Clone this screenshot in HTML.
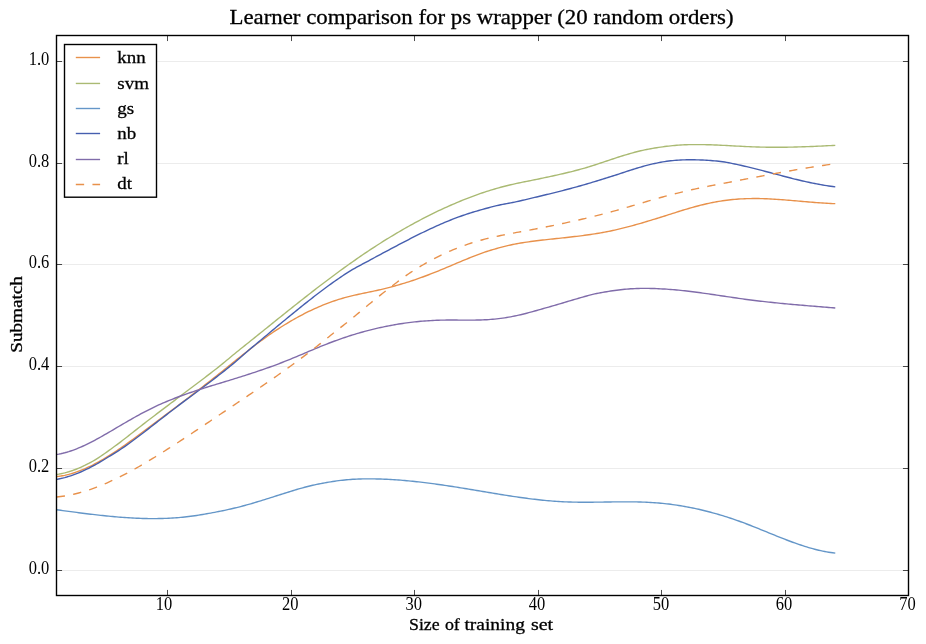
<!DOCTYPE html>
<html><head><meta charset="utf-8"><title>Learner comparison</title>
<style>
html,body{margin:0;padding:0;background:#fff;}
body{width:926px;height:644px;overflow:hidden;font-family:"Liberation Serif",serif;}
svg{display:block;will-change:transform;}
text{font-family:"Liberation Serif",serif;fill:#000;}
.tick{font-size:17px;}
.lab{font-size:18px;}
.leg{font-size:18.5px;}
.title{font-size:22px;}
</style></head><body>
<svg width="926" height="644" viewBox="0 0 926 644">
<rect x="0" y="0" width="926" height="644" fill="#ffffff"/>

<g stroke="#ececec" stroke-width="1" fill="none">
<line x1="56.5" y1="570.50" x2="908.5" y2="570.50"/>
<line x1="56.5" y1="468.50" x2="908.5" y2="468.50"/>
<line x1="56.5" y1="366.50" x2="908.5" y2="366.50"/>
<line x1="56.5" y1="264.50" x2="908.5" y2="264.50"/>
<line x1="56.5" y1="163.50" x2="908.5" y2="163.50"/>
<line x1="56.5" y1="61.50" x2="908.5" y2="61.50"/>
</g>
<clipPath id="ax"><rect x="56.5" y="35.5" width="852.0" height="560.0"/></clipPath>
<g fill="none" stroke-width="1.39" stroke-linejoin="round" clip-path="url(#ax)">
<path d="M56.7,476.55 L58.7,476.33 L60.7,476.04 L62.7,475.70 L64.7,475.32 L66.7,474.87 L68.7,474.38 L70.7,473.84 L72.7,473.26 L74.7,472.62 L76.7,471.94 L78.7,471.22 L80.7,470.45 L82.7,469.65 L84.7,468.80 L86.7,467.91 L88.7,466.98 L90.7,466.02 L92.7,465.03 L94.7,463.99 L96.7,462.93 L98.7,461.83 L100.7,460.70 L102.7,459.55 L104.7,458.36 L106.7,457.15 L108.7,455.91 L110.7,454.64 L112.7,453.36 L114.7,452.05 L116.7,450.72 L118.7,449.37 L120.7,448.00 L122.7,446.61 L124.7,445.21 L126.7,443.79 L128.7,442.36 L130.7,440.92 L132.7,439.46 L134.7,437.99 L136.7,436.52 L138.7,435.04 L140.7,433.55 L142.7,432.05 L144.7,430.55 L146.7,429.05 L148.7,427.55 L150.7,426.04 L152.7,424.54 L154.7,423.04 L156.7,421.54 L158.7,420.04 L160.7,418.54 L162.7,417.04 L164.7,415.53 L166.7,414.03 L168.7,412.53 L170.7,411.03 L172.7,409.53 L174.7,408.02 L176.7,406.52 L178.7,405.01 L180.7,403.50 L182.7,401.99 L184.7,400.48 L186.7,398.96 L188.7,397.44 L190.7,395.92 L192.7,394.39 L194.7,392.86 L196.7,391.32 L198.7,389.79 L200.7,388.24 L202.7,386.70 L204.7,385.14 L206.7,383.59 L208.7,382.02 L210.7,380.45 L212.7,378.88 L214.7,377.30 L216.7,375.71 L218.7,374.12 L220.7,372.52 L222.7,370.92 L224.7,369.31 L226.7,367.70 L228.7,366.09 L230.7,364.48 L232.7,362.87 L234.7,361.26 L236.7,359.65 L238.7,358.05 L240.7,356.46 L242.7,354.87 L244.7,353.29 L246.7,351.71 L248.7,350.15 L250.7,348.60 L252.7,347.06 L254.7,345.53 L256.7,344.02 L258.7,342.52 L260.7,341.04 L262.7,339.58 L264.7,338.13 L266.7,336.70 L268.7,335.30 L270.7,333.91 L272.7,332.55 L274.7,331.20 L276.7,329.87 L278.7,328.57 L280.7,327.28 L282.7,326.02 L284.7,324.77 L286.7,323.55 L288.7,322.34 L290.7,321.16 L292.7,320.00 L294.7,318.86 L296.7,317.74 L298.7,316.65 L300.7,315.57 L302.7,314.52 L304.7,313.49 L306.7,312.48 L308.7,311.49 L310.7,310.53 L312.7,309.59 L314.7,308.67 L316.7,307.77 L318.7,306.90 L320.7,306.05 L322.7,305.22 L324.7,304.42 L326.7,303.64 L328.7,302.88 L330.7,302.15 L332.7,301.44 L334.7,300.76 L336.7,300.10 L338.7,299.46 L340.7,298.85 L342.7,298.26 L344.7,297.70 L346.7,297.16 L348.7,296.64 L350.7,296.14 L352.7,295.66 L354.7,295.19 L356.7,294.74 L358.7,294.29 L360.7,293.86 L362.7,293.43 L364.7,293.01 L366.7,292.59 L368.7,292.17 L370.7,291.75 L372.7,291.33 L374.7,290.90 L376.7,290.46 L378.7,290.01 L380.7,289.56 L382.7,289.08 L384.7,288.60 L386.7,288.10 L388.7,287.59 L390.7,287.07 L392.7,286.54 L394.7,285.99 L396.7,285.43 L398.7,284.86 L400.7,284.27 L402.7,283.67 L404.7,283.06 L406.7,282.43 L408.7,281.80 L410.7,281.15 L412.7,280.49 L414.7,279.81 L416.7,279.13 L418.7,278.43 L420.7,277.72 L422.7,276.99 L424.7,276.25 L426.7,275.51 L428.7,274.74 L430.7,273.97 L432.7,273.19 L434.7,272.39 L436.7,271.58 L438.7,270.77 L440.7,269.95 L442.7,269.12 L444.7,268.29 L446.7,267.45 L448.7,266.61 L450.7,265.77 L452.7,264.92 L454.7,264.08 L456.7,263.23 L458.7,262.39 L460.7,261.55 L462.7,260.72 L464.7,259.89 L466.7,259.06 L468.7,258.25 L470.7,257.44 L472.7,256.64 L474.7,255.85 L476.7,255.08 L478.7,254.31 L480.7,253.56 L482.7,252.84 L484.7,252.15 L486.7,251.49 L488.7,250.86 L490.7,250.25 L492.7,249.65 L494.7,249.07 L496.7,248.50 L498.7,247.94 L500.7,247.39 L502.7,246.86 L504.7,246.35 L506.7,245.86 L508.7,245.40 L510.7,244.96 L512.7,244.54 L514.7,244.14 L516.7,243.76 L518.7,243.40 L520.7,243.05 L522.7,242.72 L524.7,242.41 L526.7,242.11 L528.7,241.82 L530.7,241.54 L532.7,241.28 L534.7,241.02 L536.7,240.77 L538.7,240.53 L540.7,240.29 L542.7,240.06 L544.7,239.84 L546.7,239.62 L548.7,239.40 L550.7,239.18 L552.7,238.97 L554.7,238.76 L556.7,238.54 L558.7,238.33 L560.7,238.12 L562.7,237.90 L564.7,237.69 L566.7,237.47 L568.7,237.25 L570.7,237.02 L572.7,236.80 L574.7,236.56 L576.7,236.32 L578.7,236.08 L580.7,235.83 L582.7,235.57 L584.7,235.31 L586.7,235.04 L588.7,234.76 L590.7,234.47 L592.7,234.17 L594.7,233.86 L596.7,233.54 L598.7,233.21 L600.7,232.86 L602.7,232.51 L604.7,232.14 L606.7,231.76 L608.7,231.36 L610.7,230.95 L612.7,230.52 L614.7,230.08 L616.7,229.63 L618.7,229.16 L620.7,228.68 L622.7,228.19 L624.7,227.68 L626.7,227.17 L628.7,226.64 L630.7,226.11 L632.7,225.56 L634.7,225.01 L636.7,224.45 L638.7,223.88 L640.7,223.30 L642.7,222.72 L644.7,222.13 L646.7,221.53 L648.7,220.93 L650.7,220.32 L652.7,219.71 L654.7,219.10 L656.7,218.48 L658.7,217.86 L660.7,217.24 L662.7,216.61 L664.7,215.98 L666.7,215.35 L668.7,214.71 L670.7,214.07 L672.7,213.43 L674.7,212.79 L676.7,212.16 L678.7,211.53 L680.7,210.90 L682.7,210.28 L684.7,209.67 L686.7,209.07 L688.7,208.48 L690.7,207.89 L692.7,207.33 L694.7,206.77 L696.7,206.23 L698.7,205.71 L700.7,205.20 L702.7,204.71 L704.7,204.23 L706.7,203.77 L708.7,203.33 L710.7,202.90 L712.7,202.49 L714.7,202.11 L716.7,201.74 L718.7,201.39 L720.7,201.07 L722.7,200.76 L724.7,200.48 L726.7,200.22 L728.7,199.97 L730.7,199.75 L732.7,199.55 L734.7,199.36 L736.7,199.20 L738.7,199.06 L740.7,198.93 L742.7,198.83 L744.7,198.74 L746.7,198.67 L748.7,198.61 L750.7,198.57 L752.7,198.54 L754.7,198.54 L756.7,198.54 L758.7,198.56 L760.7,198.60 L762.7,198.65 L764.7,198.71 L766.7,198.79 L768.7,198.87 L770.7,198.97 L772.7,199.08 L774.7,199.20 L776.7,199.32 L778.7,199.46 L780.7,199.60 L782.7,199.75 L784.7,199.91 L786.7,200.07 L788.7,200.23 L790.7,200.40 L792.7,200.57 L794.7,200.75 L796.7,200.92 L798.7,201.10 L800.7,201.28 L802.7,201.46 L804.7,201.63 L806.7,201.81 L808.7,201.98 L810.7,202.15 L812.7,202.31 L814.7,202.47 L816.7,202.62 L818.7,202.77 L820.7,202.91 L822.7,203.05 L824.7,203.17 L826.7,203.29 L828.7,203.39 L830.7,203.49 L832.7,203.57 L834.6,203.64" stroke="#E8914B" stroke-linecap="square"/>
<path d="M56.7,474.46 L58.7,474.13 L60.7,473.75 L62.7,473.32 L64.7,472.85 L66.7,472.32 L68.7,471.75 L70.7,471.13 L72.7,470.47 L74.7,469.75 L76.7,468.99 L78.7,468.19 L80.7,467.33 L82.7,466.43 L84.7,465.49 L86.7,464.49 L88.7,463.46 L90.7,462.37 L92.7,461.24 L94.7,460.06 L96.7,458.84 L98.7,457.57 L100.7,456.26 L102.7,454.91 L104.7,453.51 L106.7,452.09 L108.7,450.66 L110.7,449.22 L112.7,447.77 L114.7,446.31 L116.7,444.83 L118.7,443.34 L120.7,441.84 L122.7,440.32 L124.7,438.79 L126.7,437.23 L128.7,435.66 L130.7,434.07 L132.7,432.49 L134.7,430.91 L136.7,429.33 L138.7,427.77 L140.7,426.21 L142.7,424.65 L144.7,423.10 L146.7,421.56 L148.7,420.02 L150.7,418.48 L152.7,416.95 L154.7,415.43 L156.7,413.90 L158.7,412.39 L160.7,410.87 L162.7,409.36 L164.7,407.84 L166.7,406.34 L168.7,404.83 L170.7,403.32 L172.7,401.82 L174.7,400.32 L176.7,398.81 L178.7,397.31 L180.7,395.81 L182.7,394.31 L184.7,392.81 L186.7,391.30 L188.7,389.80 L190.7,388.29 L192.7,386.78 L194.7,385.28 L196.7,383.76 L198.7,382.25 L200.7,380.73 L202.7,379.21 L204.7,377.69 L206.7,376.16 L208.7,374.63 L210.7,373.09 L212.7,371.55 L214.7,370.01 L216.7,368.45 L218.7,366.86 L220.7,365.25 L222.7,363.62 L224.7,361.98 L226.7,360.32 L228.7,358.66 L230.7,357.00 L232.7,355.34 L234.7,353.69 L236.7,352.05 L238.7,350.43 L240.7,348.83 L242.7,347.23 L244.7,345.63 L246.7,344.03 L248.7,342.43 L250.7,340.82 L252.7,339.22 L254.7,337.61 L256.7,336.00 L258.7,334.39 L260.7,332.78 L262.7,331.17 L264.7,329.56 L266.7,327.95 L268.7,326.34 L270.7,324.73 L272.7,323.12 L274.7,321.51 L276.7,319.90 L278.7,318.30 L280.7,316.70 L282.7,315.09 L284.7,313.49 L286.7,311.89 L288.7,310.30 L290.7,308.71 L292.7,307.12 L294.7,305.53 L296.7,303.94 L298.7,302.36 L300.7,300.79 L302.7,299.21 L304.7,297.64 L306.7,296.08 L308.7,294.52 L310.7,292.96 L312.7,291.41 L314.7,289.86 L316.7,288.32 L318.7,286.78 L320.7,285.25 L322.7,283.73 L324.7,282.21 L326.7,280.70 L328.7,279.20 L330.7,277.70 L332.7,276.20 L334.7,274.72 L336.7,273.24 L338.7,271.77 L340.7,270.31 L342.7,268.86 L344.7,267.41 L346.7,265.97 L348.7,264.54 L350.7,263.12 L352.7,261.71 L354.7,260.31 L356.7,258.91 L358.7,257.53 L360.7,256.15 L362.7,254.79 L364.7,253.44 L366.7,252.09 L368.7,250.76 L370.7,249.43 L372.7,248.12 L374.7,246.82 L376.7,245.52 L378.7,244.24 L380.7,242.97 L382.7,241.70 L384.7,240.45 L386.7,239.21 L388.7,237.98 L390.7,236.76 L392.7,235.55 L394.7,234.35 L396.7,233.16 L398.7,231.98 L400.7,230.81 L402.7,229.66 L404.7,228.51 L406.7,227.38 L408.7,226.25 L410.7,225.14 L412.7,224.04 L414.7,222.95 L416.7,221.87 L418.7,220.80 L420.7,219.74 L422.7,218.70 L424.7,217.66 L426.7,216.64 L428.7,215.62 L430.7,214.62 L432.7,213.63 L434.7,212.66 L436.7,211.69 L438.7,210.74 L440.7,209.79 L442.7,208.86 L444.7,207.94 L446.7,207.03 L448.7,206.14 L450.7,205.25 L452.7,204.38 L454.7,203.52 L456.7,202.67 L458.7,201.84 L460.7,201.01 L462.7,200.20 L464.7,199.40 L466.7,198.61 L468.7,197.84 L470.7,197.08 L472.7,196.33 L474.7,195.59 L476.7,194.86 L478.7,194.15 L480.7,193.45 L482.7,192.76 L484.7,192.09 L486.7,191.44 L488.7,190.80 L490.7,190.17 L492.7,189.56 L494.7,188.96 L496.7,188.38 L498.7,187.81 L500.7,187.26 L502.7,186.73 L504.7,186.21 L506.7,185.72 L508.7,185.23 L510.7,184.77 L512.7,184.31 L514.7,183.86 L516.7,183.43 L518.7,182.99 L520.7,182.57 L522.7,182.15 L524.7,181.74 L526.7,181.35 L528.7,180.95 L530.7,180.56 L532.7,180.17 L534.7,179.77 L536.7,179.37 L538.7,178.96 L540.7,178.54 L542.7,178.11 L544.7,177.69 L546.7,177.26 L548.7,176.83 L550.7,176.40 L552.7,175.97 L554.7,175.53 L556.7,175.09 L558.7,174.64 L560.7,174.19 L562.7,173.73 L564.7,173.26 L566.7,172.78 L568.7,172.30 L570.7,171.81 L572.7,171.30 L574.7,170.79 L576.7,170.27 L578.7,169.73 L580.7,169.19 L582.7,168.62 L584.7,168.05 L586.7,167.46 L588.7,166.86 L590.7,166.24 L592.7,165.61 L594.7,164.97 L596.7,164.32 L598.7,163.66 L600.7,162.99 L602.7,162.32 L604.7,161.65 L606.7,160.98 L608.7,160.31 L610.7,159.64 L612.7,158.97 L614.7,158.32 L616.7,157.67 L618.7,157.03 L620.7,156.40 L622.7,155.77 L624.7,155.16 L626.7,154.55 L628.7,153.96 L630.7,153.38 L632.7,152.82 L634.7,152.28 L636.7,151.77 L638.7,151.27 L640.7,150.80 L642.7,150.35 L644.7,149.92 L646.7,149.50 L648.7,149.10 L650.7,148.72 L652.7,148.36 L654.7,148.02 L656.7,147.69 L658.7,147.38 L660.7,147.09 L662.7,146.82 L664.7,146.56 L666.7,146.31 L668.7,146.08 L670.7,145.86 L672.7,145.66 L674.7,145.47 L676.7,145.31 L678.7,145.15 L680.7,145.02 L682.7,144.90 L684.7,144.81 L686.7,144.73 L688.7,144.67 L690.7,144.63 L692.7,144.60 L694.7,144.58 L696.7,144.58 L698.7,144.58 L700.7,144.59 L702.7,144.62 L704.7,144.65 L706.7,144.69 L708.7,144.74 L710.7,144.80 L712.7,144.87 L714.7,144.95 L716.7,145.03 L718.7,145.12 L720.7,145.22 L722.7,145.32 L724.7,145.43 L726.7,145.53 L728.7,145.64 L730.7,145.75 L732.7,145.86 L734.7,145.96 L736.7,146.07 L738.7,146.18 L740.7,146.28 L742.7,146.38 L744.7,146.48 L746.7,146.57 L748.7,146.66 L750.7,146.75 L752.7,146.83 L754.7,146.90 L756.7,146.97 L758.7,147.03 L760.7,147.08 L762.7,147.13 L764.7,147.17 L766.7,147.20 L768.7,147.23 L770.7,147.25 L772.7,147.26 L774.7,147.27 L776.7,147.27 L778.7,147.27 L780.7,147.26 L782.7,147.24 L784.7,147.22 L786.7,147.19 L788.7,147.16 L790.7,147.13 L792.7,147.08 L794.7,147.04 L796.7,146.99 L798.7,146.93 L800.7,146.87 L802.7,146.81 L804.7,146.74 L806.7,146.67 L808.7,146.60 L810.7,146.52 L812.7,146.44 L814.7,146.35 L816.7,146.27 L818.7,146.17 L820.7,146.08 L822.7,145.98 L824.7,145.89 L826.7,145.78 L828.7,145.68 L830.7,145.58 L832.7,145.47 L834.6,145.36" stroke="#AABA73" stroke-linecap="square"/>
<path d="M56.7,509.78 L58.7,510.04 L60.7,510.31 L62.7,510.58 L64.7,510.85 L66.7,511.11 L68.7,511.38 L70.7,511.64 L72.7,511.91 L74.7,512.17 L76.7,512.43 L78.7,512.69 L80.7,512.95 L82.7,513.20 L84.7,513.46 L86.7,513.70 L88.7,513.95 L90.7,514.19 L92.7,514.43 L94.7,514.67 L96.7,514.90 L98.7,515.12 L100.7,515.34 L102.7,515.56 L104.7,515.77 L106.7,515.98 L108.7,516.18 L110.7,516.37 L112.7,516.56 L114.7,516.74 L116.7,516.91 L118.7,517.08 L120.7,517.24 L122.7,517.39 L124.7,517.54 L126.7,517.68 L128.7,517.80 L130.7,517.92 L132.7,518.03 L134.7,518.14 L136.7,518.23 L138.7,518.31 L140.7,518.39 L142.7,518.45 L144.7,518.50 L146.7,518.55 L148.7,518.58 L150.7,518.60 L152.7,518.61 L154.7,518.60 L156.7,518.59 L158.7,518.56 L160.7,518.52 L162.7,518.47 L164.7,518.41 L166.7,518.33 L168.7,518.24 L170.7,518.14 L172.7,518.02 L174.7,517.89 L176.7,517.74 L178.7,517.58 L180.7,517.40 L182.7,517.21 L184.7,517.00 L186.7,516.78 L188.7,516.54 L190.7,516.29 L192.7,516.02 L194.7,515.74 L196.7,515.44 L198.7,515.12 L200.7,514.80 L202.7,514.46 L204.7,514.12 L206.7,513.77 L208.7,513.42 L210.7,513.06 L212.7,512.69 L214.7,512.32 L216.7,511.93 L218.7,511.54 L220.7,511.14 L222.7,510.73 L224.7,510.31 L226.7,509.88 L228.7,509.44 L230.7,508.99 L232.7,508.52 L234.7,508.05 L236.7,507.57 L238.7,507.07 L240.7,506.56 L242.7,506.04 L244.7,505.50 L246.7,504.95 L248.7,504.39 L250.7,503.81 L252.7,503.23 L254.7,502.63 L256.7,502.03 L258.7,501.43 L260.7,500.81 L262.7,500.19 L264.7,499.57 L266.7,498.94 L268.7,498.31 L270.7,497.67 L272.7,497.04 L274.7,496.40 L276.7,495.77 L278.7,495.13 L280.7,494.50 L282.7,493.86 L284.7,493.24 L286.7,492.61 L288.7,491.98 L290.7,491.36 L292.7,490.75 L294.7,490.14 L296.7,489.54 L298.7,488.95 L300.7,488.38 L302.7,487.82 L304.7,487.28 L306.7,486.75 L308.7,486.24 L310.7,485.75 L312.7,485.28 L314.7,484.82 L316.7,484.39 L318.7,483.97 L320.7,483.58 L322.7,483.20 L324.7,482.84 L326.7,482.48 L328.7,482.15 L330.7,481.82 L332.7,481.51 L334.7,481.21 L336.7,480.93 L338.7,480.67 L340.7,480.42 L342.7,480.19 L344.7,479.98 L346.7,479.78 L348.7,479.61 L350.7,479.45 L352.7,479.31 L354.7,479.19 L356.7,479.09 L358.7,479.01 L360.7,478.96 L362.7,478.91 L364.7,478.88 L366.7,478.86 L368.7,478.85 L370.7,478.86 L372.7,478.87 L374.7,478.90 L376.7,478.94 L378.7,478.99 L380.7,479.05 L382.7,479.12 L384.7,479.20 L386.7,479.29 L388.7,479.39 L390.7,479.49 L392.7,479.61 L394.7,479.74 L396.7,479.88 L398.7,480.02 L400.7,480.18 L402.7,480.34 L404.7,480.51 L406.7,480.69 L408.7,480.88 L410.7,481.07 L412.7,481.27 L414.7,481.48 L416.7,481.70 L418.7,481.92 L420.7,482.15 L422.7,482.39 L424.7,482.63 L426.7,482.88 L428.7,483.13 L430.7,483.39 L432.7,483.66 L434.7,483.93 L436.7,484.20 L438.7,484.48 L440.7,484.77 L442.7,485.05 L444.7,485.35 L446.7,485.65 L448.7,485.95 L450.7,486.25 L452.7,486.56 L454.7,486.87 L456.7,487.18 L458.7,487.50 L460.7,487.82 L462.7,488.14 L464.7,488.47 L466.7,488.79 L468.7,489.12 L470.7,489.45 L472.7,489.78 L474.7,490.12 L476.7,490.45 L478.7,490.78 L480.7,491.12 L482.7,491.45 L484.7,491.79 L486.7,492.12 L488.7,492.46 L490.7,492.79 L492.7,493.12 L494.7,493.46 L496.7,493.78 L498.7,494.11 L500.7,494.44 L502.7,494.76 L504.7,495.08 L506.7,495.39 L508.7,495.70 L510.7,496.01 L512.7,496.32 L514.7,496.62 L516.7,496.91 L518.7,497.20 L520.7,497.49 L522.7,497.77 L524.7,498.04 L526.7,498.31 L528.7,498.57 L530.7,498.82 L532.7,499.07 L534.7,499.31 L536.7,499.54 L538.7,499.77 L540.7,499.98 L542.7,500.19 L544.7,500.39 L546.7,500.58 L548.7,500.76 L550.7,500.93 L552.7,501.09 L554.7,501.24 L556.7,501.38 L558.7,501.51 L560.7,501.63 L562.7,501.74 L564.7,501.83 L566.7,501.92 L568.7,501.99 L570.7,502.05 L572.7,502.10 L574.7,502.14 L576.7,502.18 L578.7,502.20 L580.7,502.22 L582.7,502.23 L584.7,502.23 L586.7,502.23 L588.7,502.22 L590.7,502.21 L592.7,502.20 L594.7,502.18 L596.7,502.15 L598.7,502.13 L600.7,502.10 L602.7,502.07 L604.7,502.04 L606.7,502.01 L608.7,501.98 L610.7,501.95 L612.7,501.92 L614.7,501.90 L616.7,501.87 L618.7,501.86 L620.7,501.84 L622.7,501.83 L624.7,501.82 L626.7,501.82 L628.7,501.83 L630.7,501.84 L632.7,501.86 L634.7,501.88 L636.7,501.92 L638.7,501.96 L640.7,502.02 L642.7,502.08 L644.7,502.15 L646.7,502.24 L648.7,502.34 L650.7,502.45 L652.7,502.57 L654.7,502.71 L656.7,502.86 L658.7,503.02 L660.7,503.20 L662.7,503.40 L664.7,503.60 L666.7,503.83 L668.7,504.06 L670.7,504.31 L672.7,504.58 L674.7,504.86 L676.7,505.15 L678.7,505.46 L680.7,505.78 L682.7,506.12 L684.7,506.47 L686.7,506.83 L688.7,507.21 L690.7,507.60 L692.7,508.00 L694.7,508.42 L696.7,508.85 L698.7,509.30 L700.7,509.76 L702.7,510.23 L704.7,510.72 L706.7,511.22 L708.7,511.73 L710.7,512.26 L712.7,512.80 L714.7,513.35 L716.7,513.92 L718.7,514.50 L720.7,515.09 L722.7,515.69 L724.7,516.31 L726.7,516.95 L728.7,517.59 L730.7,518.25 L732.7,518.92 L734.7,519.60 L736.7,520.30 L738.7,521.01 L740.7,521.73 L742.7,522.47 L744.7,523.22 L746.7,523.98 L748.7,524.75 L750.7,525.52 L752.7,526.31 L754.7,527.11 L756.7,527.91 L758.7,528.71 L760.7,529.52 L762.7,530.34 L764.7,531.15 L766.7,531.97 L768.7,532.79 L770.7,533.61 L772.7,534.42 L774.7,535.23 L776.7,536.04 L778.7,536.84 L780.7,537.64 L782.7,538.43 L784.7,539.21 L786.7,539.98 L788.7,540.74 L790.7,541.49 L792.7,542.23 L794.7,542.95 L796.7,543.66 L798.7,544.36 L800.7,545.03 L802.7,545.69 L804.7,546.34 L806.7,546.96 L808.7,547.56 L810.7,548.14 L812.7,548.70 L814.7,549.23 L816.7,549.74 L818.7,550.22 L820.7,550.68 L822.7,551.10 L824.7,551.50 L826.7,551.87 L828.7,552.21 L830.7,552.52 L832.7,552.79 L834.6,553.02" stroke="#6496C8" stroke-linecap="square"/>
<path d="M56.7,479.33 L58.7,478.96 L60.7,478.55 L62.7,478.09 L64.7,477.59 L66.7,477.04 L68.7,476.44 L70.7,475.80 L72.7,475.12 L74.7,474.40 L76.7,473.63 L78.7,472.83 L80.7,471.99 L82.7,471.11 L84.7,470.19 L86.7,469.24 L88.7,468.26 L90.7,467.24 L92.7,466.19 L94.7,465.10 L96.7,463.99 L98.7,462.85 L100.7,461.68 L102.7,460.48 L104.7,459.25 L106.7,458.02 L108.7,456.78 L110.7,455.55 L112.7,454.32 L114.7,453.07 L116.7,451.82 L118.7,450.54 L120.7,449.25 L122.7,447.93 L124.7,446.58 L126.7,445.19 L128.7,443.77 L130.7,442.30 L132.7,440.81 L134.7,439.31 L136.7,437.81 L138.7,436.29 L140.7,434.76 L142.7,433.23 L144.7,431.69 L146.7,430.14 L148.7,428.59 L150.7,427.04 L152.7,425.48 L154.7,423.92 L156.7,422.37 L158.7,420.81 L160.7,419.25 L162.7,417.69 L164.7,416.14 L166.7,414.59 L168.7,413.05 L170.7,411.51 L172.7,409.97 L174.7,408.45 L176.7,406.93 L178.7,405.42 L180.7,403.92 L182.7,402.41 L184.7,400.92 L186.7,399.43 L188.7,397.94 L190.7,396.45 L192.7,394.96 L194.7,393.47 L196.7,391.98 L198.7,390.49 L200.7,389.00 L202.7,387.50 L204.7,386.00 L206.7,384.49 L208.7,382.98 L210.7,381.46 L212.7,379.94 L214.7,378.40 L216.7,376.86 L218.7,375.31 L220.7,373.74 L222.7,372.17 L224.7,370.59 L226.7,369.00 L228.7,367.40 L230.7,365.79 L232.7,364.16 L234.7,362.48 L236.7,360.78 L238.7,359.06 L240.7,357.32 L242.7,355.57 L244.7,353.81 L246.7,352.06 L248.7,350.31 L250.7,348.58 L252.7,346.87 L254.7,345.18 L256.7,343.52 L258.7,341.85 L260.7,340.18 L262.7,338.50 L264.7,336.83 L266.7,335.16 L268.7,333.49 L270.7,331.82 L272.7,330.15 L274.7,328.48 L276.7,326.81 L278.7,325.15 L280.7,323.48 L282.7,321.83 L284.7,320.17 L286.7,318.52 L288.7,316.87 L290.7,315.23 L292.7,313.60 L294.7,311.97 L296.7,310.34 L298.7,308.72 L300.7,307.11 L302.7,305.51 L304.7,303.91 L306.7,302.33 L308.7,300.75 L310.7,299.18 L312.7,297.62 L314.7,296.07 L316.7,294.54 L318.7,293.01 L320.7,291.50 L322.7,289.99 L324.7,288.50 L326.7,287.03 L328.7,285.56 L330.7,284.12 L332.7,282.68 L334.7,281.26 L336.7,279.86 L338.7,278.47 L340.7,277.10 L342.7,275.75 L344.7,274.41 L346.7,273.10 L348.7,271.85 L350.7,270.63 L352.7,269.45 L354.7,268.31 L356.7,267.19 L358.7,266.10 L360.7,265.02 L362.7,263.96 L364.7,262.90 L366.7,261.84 L368.7,260.77 L370.7,259.68 L372.7,258.59 L374.7,257.51 L376.7,256.44 L378.7,255.37 L380.7,254.30 L382.7,253.23 L384.7,252.16 L386.7,251.09 L388.7,250.02 L390.7,248.95 L392.7,247.89 L394.7,246.83 L396.7,245.77 L398.7,244.72 L400.7,243.67 L402.7,242.62 L404.7,241.58 L406.7,240.54 L408.7,239.51 L410.7,238.49 L412.7,237.47 L414.7,236.46 L416.7,235.46 L418.7,234.46 L420.7,233.48 L422.7,232.50 L424.7,231.53 L426.7,230.57 L428.7,229.62 L430.7,228.69 L432.7,227.76 L434.7,226.85 L436.7,225.94 L438.7,225.05 L440.7,224.18 L442.7,223.31 L444.7,222.46 L446.7,221.63 L448.7,220.81 L450.7,220.00 L452.7,219.21 L454.7,218.44 L456.7,217.69 L458.7,216.95 L460.7,216.23 L462.7,215.53 L464.7,214.84 L466.7,214.17 L468.7,213.52 L470.7,212.88 L472.7,212.26 L474.7,211.65 L476.7,211.05 L478.7,210.47 L480.7,209.89 L482.7,209.33 L484.7,208.78 L486.7,208.24 L488.7,207.71 L490.7,207.18 L492.7,206.67 L494.7,206.16 L496.7,205.66 L498.7,205.21 L500.7,204.78 L502.7,204.38 L504.7,203.99 L506.7,203.61 L508.7,203.24 L510.7,202.87 L512.7,202.49 L514.7,202.09 L516.7,201.68 L518.7,201.24 L520.7,200.77 L522.7,200.29 L524.7,199.81 L526.7,199.34 L528.7,198.86 L530.7,198.39 L532.7,197.91 L534.7,197.43 L536.7,196.96 L538.7,196.48 L540.7,196.00 L542.7,195.52 L544.7,195.03 L546.7,194.55 L548.7,194.06 L550.7,193.57 L552.7,193.07 L554.7,192.58 L556.7,192.08 L558.7,191.57 L560.7,191.07 L562.7,190.55 L564.7,190.04 L566.7,189.52 L568.7,188.99 L570.7,188.46 L572.7,187.92 L574.7,187.38 L576.7,186.83 L578.7,186.27 L580.7,185.71 L582.7,185.14 L584.7,184.57 L586.7,183.98 L588.7,183.39 L590.7,182.80 L592.7,182.19 L594.7,181.58 L596.7,180.97 L598.7,180.35 L600.7,179.72 L602.7,179.10 L604.7,178.47 L606.7,177.84 L608.7,177.22 L610.7,176.59 L612.7,175.97 L614.7,175.34 L616.7,174.72 L618.7,174.08 L620.7,173.43 L622.7,172.77 L624.7,172.11 L626.7,171.44 L628.7,170.78 L630.7,170.13 L632.7,169.48 L634.7,168.85 L636.7,168.23 L638.7,167.63 L640.7,167.06 L642.7,166.50 L644.7,165.95 L646.7,165.42 L648.7,164.91 L650.7,164.42 L652.7,163.94 L654.7,163.49 L656.7,163.06 L658.7,162.66 L660.7,162.28 L662.7,161.93 L664.7,161.60 L666.7,161.30 L668.7,161.03 L670.7,160.79 L672.7,160.57 L674.7,160.39 L676.7,160.23 L678.7,160.09 L680.7,159.98 L682.7,159.89 L684.7,159.82 L686.7,159.78 L688.7,159.75 L690.7,159.75 L692.7,159.76 L694.7,159.78 L696.7,159.83 L698.7,159.89 L700.7,159.97 L702.7,160.06 L704.7,160.18 L706.7,160.30 L708.7,160.42 L710.7,160.55 L712.7,160.69 L714.7,160.84 L716.7,161.02 L718.7,161.22 L720.7,161.46 L722.7,161.74 L724.7,162.06 L726.7,162.42 L728.7,162.79 L730.7,163.18 L732.7,163.58 L734.7,163.99 L736.7,164.42 L738.7,164.85 L740.7,165.30 L742.7,165.75 L744.7,166.22 L746.7,166.69 L748.7,167.17 L750.7,167.66 L752.7,168.15 L754.7,168.65 L756.7,169.16 L758.7,169.67 L760.7,170.18 L762.7,170.69 L764.7,171.21 L766.7,171.73 L768.7,172.25 L770.7,172.78 L772.7,173.31 L774.7,173.84 L776.7,174.37 L778.7,174.90 L780.7,175.44 L782.7,175.96 L784.7,176.49 L786.7,177.01 L788.7,177.53 L790.7,178.04 L792.7,178.55 L794.7,179.05 L796.7,179.54 L798.7,180.02 L800.7,180.50 L802.7,180.96 L804.7,181.41 L806.7,181.86 L808.7,182.29 L810.7,182.72 L812.7,183.13 L814.7,183.53 L816.7,183.92 L818.7,184.29 L820.7,184.65 L822.7,185.00 L824.7,185.33 L826.7,185.65 L828.7,185.95 L830.7,186.24 L832.7,186.50 L834.6,186.74" stroke="#465FAF" stroke-linecap="square"/>
<path d="M56.7,454.47 L58.7,454.13 L60.7,453.74 L62.7,453.29 L64.7,452.79 L66.7,452.24 L68.7,451.64 L70.7,450.99 L72.7,450.30 L74.7,449.57 L76.7,448.79 L78.7,447.98 L80.7,447.12 L82.7,446.24 L84.7,445.32 L86.7,444.36 L88.7,443.38 L90.7,442.38 L92.7,441.34 L94.7,440.29 L96.7,439.21 L98.7,438.11 L100.7,437.00 L102.7,435.87 L104.7,434.72 L106.7,433.57 L108.7,432.41 L110.7,431.24 L112.7,430.06 L114.7,428.88 L116.7,427.70 L118.7,426.51 L120.7,425.34 L122.7,424.16 L124.7,422.99 L126.7,421.83 L128.7,420.67 L130.7,419.53 L132.7,418.39 L134.7,417.26 L136.7,416.15 L138.7,415.05 L140.7,413.96 L142.7,412.89 L144.7,411.83 L146.7,410.80 L148.7,409.78 L150.7,408.78 L152.7,407.80 L154.7,406.84 L156.7,405.90 L158.7,404.98 L160.7,404.08 L162.7,403.20 L164.7,402.34 L166.7,401.49 L168.7,400.66 L170.7,399.85 L172.7,399.05 L174.7,398.27 L176.7,397.50 L178.7,396.75 L180.7,396.00 L182.7,395.27 L184.7,394.56 L186.7,393.85 L188.7,393.15 L190.7,392.47 L192.7,391.79 L194.7,391.12 L196.7,390.46 L198.7,389.81 L200.7,389.17 L202.7,388.53 L204.7,387.90 L206.7,387.27 L208.7,386.65 L210.7,386.03 L212.7,385.41 L214.7,384.80 L216.7,384.19 L218.7,383.58 L220.7,382.97 L222.7,382.37 L224.7,381.76 L226.7,381.15 L228.7,380.54 L230.7,379.93 L232.7,379.31 L234.7,378.70 L236.7,378.07 L238.7,377.45 L240.7,376.82 L242.7,376.19 L244.7,375.56 L246.7,374.92 L248.7,374.27 L250.7,373.62 L252.7,372.96 L254.7,372.30 L256.7,371.63 L258.7,370.96 L260.7,370.28 L262.7,369.59 L264.7,368.89 L266.7,368.19 L268.7,367.48 L270.7,366.76 L272.7,366.03 L274.7,365.29 L276.7,364.55 L278.7,363.79 L280.7,363.02 L282.7,362.25 L284.7,361.46 L286.7,360.67 L288.7,359.86 L290.7,359.05 L292.7,358.22 L294.7,357.39 L296.7,356.55 L298.7,355.71 L300.7,354.87 L302.7,354.02 L304.7,353.17 L306.7,352.32 L308.7,351.48 L310.7,350.63 L312.7,349.79 L314.7,348.95 L316.7,348.11 L318.7,347.28 L320.7,346.46 L322.7,345.65 L324.7,344.85 L326.7,344.06 L328.7,343.27 L330.7,342.51 L332.7,341.75 L334.7,341.01 L336.7,340.28 L338.7,339.56 L340.7,338.86 L342.7,338.17 L344.7,337.49 L346.7,336.83 L348.7,336.17 L350.7,335.53 L352.7,334.91 L354.7,334.29 L356.7,333.69 L358.7,333.11 L360.7,332.53 L362.7,331.97 L364.7,331.42 L366.7,330.88 L368.7,330.36 L370.7,329.85 L372.7,329.35 L374.7,328.87 L376.7,328.40 L378.7,327.94 L380.7,327.49 L382.7,327.06 L384.7,326.64 L386.7,326.23 L388.7,325.84 L390.7,325.46 L392.7,325.09 L394.7,324.74 L396.7,324.39 L398.7,324.06 L400.7,323.75 L402.7,323.45 L404.7,323.16 L406.7,322.88 L408.7,322.61 L410.7,322.36 L412.7,322.13 L414.7,321.90 L416.7,321.69 L418.7,321.49 L420.7,321.30 L422.7,321.13 L424.7,320.97 L426.7,320.82 L428.7,320.69 L430.7,320.57 L432.7,320.46 L434.7,320.37 L436.7,320.28 L438.7,320.21 L440.7,320.16 L442.7,320.12 L444.7,320.08 L446.7,320.06 L448.7,320.05 L450.7,320.05 L452.7,320.05 L454.7,320.05 L456.7,320.06 L458.7,320.07 L460.7,320.09 L462.7,320.10 L464.7,320.11 L466.7,320.11 L468.7,320.11 L470.7,320.11 L472.7,320.10 L474.7,320.08 L476.7,320.05 L478.7,320.00 L480.7,319.95 L482.7,319.88 L484.7,319.79 L486.7,319.69 L488.7,319.57 L490.7,319.43 L492.7,319.27 L494.7,319.09 L496.7,318.88 L498.7,318.65 L500.7,318.39 L502.7,318.12 L504.7,317.82 L506.7,317.51 L508.7,317.17 L510.7,316.81 L512.7,316.43 L514.7,316.03 L516.7,315.61 L518.7,315.17 L520.7,314.71 L522.7,314.23 L524.7,313.74 L526.7,313.23 L528.7,312.70 L530.7,312.15 L532.7,311.60 L534.7,311.04 L536.7,310.48 L538.7,309.91 L540.7,309.34 L542.7,308.77 L544.7,308.20 L546.7,307.62 L548.7,307.05 L550.7,306.47 L552.7,305.90 L554.7,305.32 L556.7,304.74 L558.7,304.16 L560.7,303.56 L562.7,302.96 L564.7,302.36 L566.7,301.75 L568.7,301.15 L570.7,300.55 L572.7,299.96 L574.7,299.37 L576.7,298.80 L578.7,298.24 L580.7,297.67 L582.7,297.11 L584.7,296.54 L586.7,295.98 L588.7,295.43 L590.7,294.90 L592.7,294.40 L594.7,293.93 L596.7,293.50 L598.7,293.10 L600.7,292.73 L602.7,292.37 L604.7,292.02 L606.7,291.69 L608.7,291.37 L610.7,291.06 L612.7,290.77 L614.7,290.49 L616.7,290.22 L618.7,289.97 L620.7,289.73 L622.7,289.51 L624.7,289.31 L626.7,289.12 L628.7,288.96 L630.7,288.81 L632.7,288.69 L634.7,288.58 L636.7,288.50 L638.7,288.44 L640.7,288.39 L642.7,288.37 L644.7,288.36 L646.7,288.37 L648.7,288.40 L650.7,288.44 L652.7,288.50 L654.7,288.56 L656.7,288.64 L658.7,288.73 L660.7,288.83 L662.7,288.94 L664.7,289.06 L666.7,289.18 L668.7,289.32 L670.7,289.47 L672.7,289.63 L674.7,289.80 L676.7,289.98 L678.7,290.17 L680.7,290.37 L682.7,290.58 L684.7,290.80 L686.7,291.02 L688.7,291.26 L690.7,291.50 L692.7,291.74 L694.7,292.00 L696.7,292.26 L698.7,292.52 L700.7,292.80 L702.7,293.07 L704.7,293.35 L706.7,293.63 L708.7,293.92 L710.7,294.21 L712.7,294.51 L714.7,294.80 L716.7,295.10 L718.7,295.39 L720.7,295.69 L722.7,295.99 L724.7,296.29 L726.7,296.59 L728.7,296.89 L730.7,297.18 L732.7,297.48 L734.7,297.77 L736.7,298.06 L738.7,298.35 L740.7,298.63 L742.7,298.91 L744.7,299.19 L746.7,299.46 L748.7,299.72 L750.7,299.98 L752.7,300.23 L754.7,300.48 L756.7,300.73 L758.7,300.97 L760.7,301.20 L762.7,301.43 L764.7,301.66 L766.7,301.88 L768.7,302.09 L770.7,302.31 L772.7,302.52 L774.7,302.72 L776.7,302.92 L778.7,303.12 L780.7,303.32 L782.7,303.51 L784.7,303.70 L786.7,303.89 L788.7,304.07 L790.7,304.26 L792.7,304.44 L794.7,304.62 L796.7,304.79 L798.7,304.97 L800.7,305.14 L802.7,305.31 L804.7,305.48 L806.7,305.65 L808.7,305.82 L810.7,305.98 L812.7,306.15 L814.7,306.31 L816.7,306.48 L818.7,306.65 L820.7,306.81 L822.7,306.98 L824.7,307.14 L826.7,307.31 L828.7,307.47 L830.7,307.64 L832.7,307.81 L834.6,307.97" stroke="#806CAA" stroke-linecap="square"/>
<path d="M56.7,497.00 L58.7,496.79 L60.7,496.55 L62.7,496.28 L64.7,495.97 L66.7,495.64 L68.7,495.27 L70.7,494.87 L72.7,494.44 L74.7,493.98 L76.7,493.49 L78.7,492.98 L80.7,492.43 L82.7,491.86 L84.7,491.26 L86.7,490.63 L88.7,489.98 L90.7,489.31 L92.7,488.60 L94.7,487.88 L96.7,487.13 L98.7,486.35 L100.7,485.56 L102.7,484.74 L104.7,483.90 L106.7,483.03 L108.7,482.15 L110.7,481.24 L112.7,480.32 L114.7,479.38 L116.7,478.42 L118.7,477.43 L120.7,476.44 L122.7,475.42 L124.7,474.39 L126.7,473.34 L128.7,472.27 L130.7,471.19 L132.7,470.10 L134.7,468.99 L136.7,467.87 L138.7,466.73 L140.7,465.58 L142.7,464.42 L144.7,463.25 L146.7,462.06 L148.7,460.87 L150.7,459.66 L152.7,458.45 L154.7,457.22 L156.7,455.99 L158.7,454.75 L160.7,453.50 L162.7,452.24 L164.7,450.98 L166.7,449.71 L168.7,448.44 L170.7,447.16 L172.7,445.87 L174.7,444.58 L176.7,443.28 L178.7,441.98 L180.7,440.68 L182.7,439.37 L184.7,438.05 L186.7,436.74 L188.7,435.42 L190.7,434.09 L192.7,432.76 L194.7,431.43 L196.7,430.10 L198.7,428.77 L200.7,427.43 L202.7,426.09 L204.7,424.75 L206.7,423.41 L208.7,422.07 L210.7,420.73 L212.7,419.38 L214.7,418.04 L216.7,416.70 L218.7,415.35 L220.7,414.01 L222.7,412.67 L224.7,411.32 L226.7,409.98 L228.7,408.64 L230.7,407.30 L232.7,405.96 L234.7,404.62 L236.7,403.28 L238.7,401.94 L240.7,400.59 L242.7,399.25 L244.7,397.90 L246.7,396.55 L248.7,395.20 L250.7,393.85 L252.7,392.49 L254.7,391.14 L256.7,389.77 L258.7,388.41 L260.7,387.04 L262.7,385.67 L264.7,384.30 L266.7,382.92 L268.7,381.54 L270.7,380.15 L272.7,378.76 L274.7,377.36 L276.7,375.96 L278.7,374.55 L280.7,373.14 L282.7,371.72 L284.7,370.29 L286.7,368.86 L288.7,367.42 L290.7,365.98 L292.7,364.53 L294.7,363.07 L296.7,361.60 L298.7,360.13 L300.7,358.64 L302.7,357.15 L304.7,355.65 L306.7,354.15 L308.7,352.63 L310.7,351.10 L312.7,349.57 L314.7,348.02 L316.7,346.47 L318.7,344.91 L320.7,343.33 L322.7,341.75 L324.7,340.15 L326.7,338.54 L328.7,336.93 L330.7,335.30 L332.7,333.69 L334.7,332.10 L336.7,330.53 L338.7,328.96 L340.7,327.41 L342.7,325.85 L344.7,324.29 L346.7,322.72 L348.7,321.13 L350.7,319.53 L352.7,317.90 L354.7,316.23 L356.7,314.55 L358.7,312.87 L360.7,311.20 L362.7,309.53 L364.7,307.86 L366.7,306.21 L368.7,304.56 L370.7,302.92 L372.7,301.29 L374.7,299.67 L376.7,298.06 L378.7,296.46 L380.7,294.87 L382.7,293.30 L384.7,291.74 L386.7,290.19 L388.7,288.63 L390.7,287.07 L392.7,285.52 L394.7,283.97 L396.7,282.44 L398.7,280.92 L400.7,279.42 L402.7,277.95 L404.7,276.51 L406.7,275.11 L408.7,273.74 L410.7,272.41 L412.7,271.12 L414.7,269.84 L416.7,268.59 L418.7,267.36 L420.7,266.16 L422.7,264.98 L424.7,263.82 L426.7,262.68 L428.7,261.56 L430.7,260.47 L432.7,259.40 L434.7,258.36 L436.7,257.33 L438.7,256.33 L440.7,255.35 L442.7,254.39 L444.7,253.46 L446.7,252.54 L448.7,251.65 L450.7,250.78 L452.7,249.93 L454.7,249.10 L456.7,248.29 L458.7,247.51 L460.7,246.75 L462.7,246.00 L464.7,245.28 L466.7,244.58 L468.7,243.90 L470.7,243.24 L472.7,242.60 L474.7,241.99 L476.7,241.39 L478.7,240.82 L480.7,240.26 L482.7,239.72 L484.7,239.20 L486.7,238.70 L488.7,238.21 L490.7,237.73 L492.7,237.27 L494.7,236.82 L496.7,236.38 L498.7,235.95 L500.7,235.54 L502.7,235.13 L504.7,234.73 L506.7,234.33 L508.7,233.95 L510.7,233.56 L512.7,233.19 L514.7,232.81 L516.7,232.44 L518.7,232.07 L520.7,231.70 L522.7,231.33 L524.7,230.96 L526.7,230.59 L528.7,230.22 L530.7,229.85 L532.7,229.47 L534.7,229.09 L536.7,228.71 L538.7,228.33 L540.7,227.95 L542.7,227.56 L544.7,227.17 L546.7,226.77 L548.7,226.37 L550.7,225.97 L552.7,225.57 L554.7,225.16 L556.7,224.74 L558.7,224.33 L560.7,223.91 L562.7,223.48 L564.7,223.06 L566.7,222.63 L568.7,222.19 L570.7,221.76 L572.7,221.32 L574.7,220.87 L576.7,220.42 L578.7,219.97 L580.7,219.51 L582.7,219.04 L584.7,218.57 L586.7,218.10 L588.7,217.62 L590.7,217.13 L592.7,216.64 L594.7,216.15 L596.7,215.65 L598.7,215.14 L600.7,214.63 L602.7,214.11 L604.7,213.59 L606.7,213.06 L608.7,212.52 L610.7,211.98 L612.7,211.43 L614.7,210.88 L616.7,210.32 L618.7,209.75 L620.7,209.19 L622.7,208.61 L624.7,208.03 L626.7,207.45 L628.7,206.87 L630.7,206.28 L632.7,205.69 L634.7,205.09 L636.7,204.50 L638.7,203.90 L640.7,203.31 L642.7,202.72 L644.7,202.13 L646.7,201.54 L648.7,200.95 L650.7,200.37 L652.7,199.79 L654.7,199.22 L656.7,198.65 L658.7,198.09 L660.7,197.54 L662.7,196.99 L664.7,196.45 L666.7,195.91 L668.7,195.37 L670.7,194.85 L672.7,194.33 L674.7,193.81 L676.7,193.31 L678.7,192.81 L680.7,192.32 L682.7,191.84 L684.7,191.37 L686.7,190.90 L688.7,190.44 L690.7,189.99 L692.7,189.55 L694.7,189.11 L696.7,188.68 L698.7,188.25 L700.7,187.83 L702.7,187.41 L704.7,187.00 L706.7,186.60 L708.7,186.19 L710.7,185.80 L712.7,185.40 L714.7,185.01 L716.7,184.62 L718.7,184.23 L720.7,183.85 L722.7,183.46 L724.7,183.08 L726.7,182.70 L728.7,182.32 L730.7,181.95 L732.7,181.57 L734.7,181.19 L736.7,180.81 L738.7,180.43 L740.7,180.05 L742.7,179.67 L744.7,179.29 L746.7,178.90 L748.7,178.52 L750.7,178.14 L752.7,177.76 L754.7,177.38 L756.7,177.00 L758.7,176.62 L760.7,176.24 L762.7,175.86 L764.7,175.48 L766.7,175.10 L768.7,174.73 L770.7,174.35 L772.7,173.98 L774.7,173.61 L776.7,173.24 L778.7,172.87 L780.7,172.51 L782.7,172.14 L784.7,171.78 L786.7,171.42 L788.7,171.06 L790.7,170.71 L792.7,170.36 L794.7,170.01 L796.7,169.66 L798.7,169.32 L800.7,168.98 L802.7,168.64 L804.7,168.31 L806.7,167.98 L808.7,167.66 L810.7,167.34 L812.7,167.02 L814.7,166.70 L816.7,166.40 L818.7,166.09 L820.7,165.79 L822.7,165.49 L824.7,165.20 L826.7,164.92 L828.7,164.64 L830.7,164.36 L832.7,164.09 L834.6,163.83" stroke="#E8914B" stroke-dasharray="8.33 8.33"/>
</g>
<g stroke="#000" stroke-width="0.7" fill="none">
<line x1="167.50" y1="595.5" x2="167.50" y2="589.94"/>
<line x1="167.50" y1="35.5" x2="167.50" y2="41.06"/>
<line x1="291.50" y1="595.5" x2="291.50" y2="589.94"/>
<line x1="291.50" y1="35.5" x2="291.50" y2="41.06"/>
<line x1="414.50" y1="595.5" x2="414.50" y2="589.94"/>
<line x1="414.50" y1="35.5" x2="414.50" y2="41.06"/>
<line x1="538.50" y1="595.5" x2="538.50" y2="589.94"/>
<line x1="538.50" y1="35.5" x2="538.50" y2="41.06"/>
<line x1="661.50" y1="595.5" x2="661.50" y2="589.94"/>
<line x1="661.50" y1="35.5" x2="661.50" y2="41.06"/>
<line x1="785.50" y1="595.5" x2="785.50" y2="589.94"/>
<line x1="785.50" y1="35.5" x2="785.50" y2="41.06"/>
<line x1="908.50" y1="595.5" x2="908.50" y2="589.94"/>
<line x1="908.50" y1="35.5" x2="908.50" y2="41.06"/>
<line x1="56.5" y1="570.50" x2="62.06" y2="570.50"/>
<line x1="908.5" y1="570.50" x2="902.94" y2="570.50"/>
<line x1="56.5" y1="468.50" x2="62.06" y2="468.50"/>
<line x1="908.5" y1="468.50" x2="902.94" y2="468.50"/>
<line x1="56.5" y1="366.50" x2="62.06" y2="366.50"/>
<line x1="908.5" y1="366.50" x2="902.94" y2="366.50"/>
<line x1="56.5" y1="264.50" x2="62.06" y2="264.50"/>
<line x1="908.5" y1="264.50" x2="902.94" y2="264.50"/>
<line x1="56.5" y1="163.50" x2="62.06" y2="163.50"/>
<line x1="908.5" y1="163.50" x2="902.94" y2="163.50"/>
<line x1="56.5" y1="61.50" x2="62.06" y2="61.50"/>
<line x1="908.5" y1="61.50" x2="902.94" y2="61.50"/>
</g>
<rect x="56.5" y="35.5" width="852.0" height="560.0" fill="none" stroke="#000" stroke-width="1.39"/>
<text transform="translate(164.00,610.30) scale(0.9700,1.0600)" font-size="17" text-anchor="middle">10</text>
<text transform="translate(290.30,610.30) scale(0.9700,1.0600)" font-size="17" text-anchor="middle">20</text>
<text transform="translate(413.80,610.30) scale(0.9700,1.0600)" font-size="17" text-anchor="middle">30</text>
<text transform="translate(537.00,610.30) scale(0.9700,1.0600)" font-size="17" text-anchor="middle">40</text>
<text transform="translate(660.90,610.30) scale(0.9700,1.0600)" font-size="17" text-anchor="middle">50</text>
<text transform="translate(784.10,610.30) scale(0.9700,1.0600)" font-size="17" text-anchor="middle">60</text>
<text transform="translate(907.60,610.30) scale(0.9700,1.0600)" font-size="17" text-anchor="middle">70</text>
<text transform="translate(49.30,574.20) scale(0.9700,1.0600)" font-size="17" text-anchor="end">0.0</text>
<text transform="translate(49.30,472.20) scale(0.9700,1.0600)" font-size="17" text-anchor="end">0.2</text>
<text transform="translate(49.30,370.20) scale(0.9700,1.0600)" font-size="17" text-anchor="end">0.4</text>
<text transform="translate(49.30,268.20) scale(0.9700,1.0600)" font-size="17" text-anchor="end">0.6</text>
<text transform="translate(49.30,167.20) scale(0.9700,1.0600)" font-size="17" text-anchor="end">0.8</text>
<text transform="translate(49.30,65.20) scale(0.9700,1.0600)" font-size="17" text-anchor="end">1.0</text>
<text x="409.1" y="630.2" font-size="17" textLength="30.5" lengthAdjust="spacingAndGlyphs" stroke="#000" stroke-width="0.3">Size</text>
<text x="444.9" y="630.2" font-size="17" textLength="14.9" lengthAdjust="spacingAndGlyphs" stroke="#000" stroke-width="0.3">of</text>
<text x="464.4" y="630.2" font-size="17" textLength="60.5" lengthAdjust="spacingAndGlyphs" stroke="#000" stroke-width="0.3">training</text>
<text x="530.9" y="630.2" font-size="17" textLength="22.2" lengthAdjust="spacingAndGlyphs" stroke="#000" stroke-width="0.3">set</text>
<text transform="translate(22.10,314.50) rotate(-90) scale(1.1260,1.0000)" font-size="17" text-anchor="middle" stroke="#000" stroke-width="0.3">Submatch</text>
<text transform="translate(481.50,23.60) scale(1.0626,1.0000)" font-size="21.5" text-anchor="middle" stroke="#000" stroke-width="0.3">Learner comparison for ps wrapper (20 random orders)</text>
<rect x="64.5" y="44.5" width="92.0" height="152.7" fill="#fff" stroke="#000" stroke-width="1.39"/>
<line x1="75.8" y1="57.5" x2="100.1" y2="57.5" stroke="#E8914B" stroke-width="1.39"/>
<text transform="translate(117.30,62.80) scale(1.0000,0.9300)" font-size="19" text-anchor="start" stroke="#000" stroke-width="0.3">knn</text>
<line x1="75.8" y1="83.45" x2="100.1" y2="83.45" stroke="#AABA73" stroke-width="1.39"/>
<text transform="translate(117.30,88.70) scale(1.0000,0.9300)" font-size="19" text-anchor="start" stroke="#000" stroke-width="0.3">svm</text>
<line x1="75.8" y1="108.5" x2="100.1" y2="108.5" stroke="#6496C8" stroke-width="1.39"/>
<text transform="translate(117.30,113.60) scale(1.0000,0.9300)" font-size="19" text-anchor="start" stroke="#000" stroke-width="0.3">gs</text>
<line x1="75.8" y1="133.5" x2="100.1" y2="133.5" stroke="#465FAF" stroke-width="1.39"/>
<text transform="translate(117.30,138.90) scale(1.0000,0.9300)" font-size="19" text-anchor="start" stroke="#000" stroke-width="0.3">nb</text>
<line x1="75.8" y1="159.5" x2="100.1" y2="159.5" stroke="#806CAA" stroke-width="1.39"/>
<text transform="translate(117.30,163.80) scale(1.0000,0.9300)" font-size="19" text-anchor="start" stroke="#000" stroke-width="0.3">rl</text>
<line x1="75.8" y1="184.5" x2="100.1" y2="184.5" stroke="#E8914B" stroke-width="1.39" stroke-dasharray="8.33 8.33"/>
<text transform="translate(117.30,189.20) scale(1.0000,0.9300)" font-size="19" text-anchor="start" stroke="#000" stroke-width="0.3">dt</text>
</svg></body></html>
